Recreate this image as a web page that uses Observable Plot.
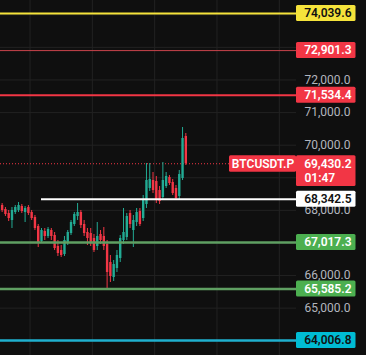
<!DOCTYPE html>
<html><head><meta charset="utf-8">
<script src="https://cdn.jsdelivr.net/npm/d3@7"></script>
<script src="https://cdn.jsdelivr.net/npm/@observablehq/plot@0.6"></script>
<style>html,body{margin:0;padding:0;background:#0f0f0f;overflow:hidden}</style>
</head><body><div id="chart"></div>
<script>
// ---- data ----
const opens  = [68149,68026,67904,67689,67934,67996,68118,67934,68088,67934,67781,67505,67045,67351,67198,67382,67229,66891,66768,66646,67014,67290,67566,67812,67934,67566,67321,67290,67137,66891,67259,67198,66953,66400,65940,66216,66523,67075,67167,67904,67382,67627,67965,67750,68180,68671,68916,68885,68609,68394,68732,69008,68855,68671,68425,68977,70266];
const highs  = [68210,68088,67996,68088,68149,68241,68180,68118,68149,67996,67842,67566,67443,67443,67474,67443,67321,67075,66922,67198,67382,67689,67934,68210,67996,67689,67443,67443,67259,67627,67382,67474,67075,66615,66462,66768,67229,68057,67904,67996,67842,68057,68057,68456,69438,69438,69161,69039,68732,69468,69161,69069,68947,68763,69223,70542,70358];
const lows   = [67934,67812,67658,67443,67873,67934,67904,67627,67842,67689,67382,66860,66983,67075,67137,67075,66768,66584,66554,66584,66922,67229,67505,67689,67443,67198,66922,66891,66707,66768,66953,66768,65590,65787,65817,66093,66400,66953,67075,67443,66860,67505,67505,67658,68057,68579,68517,68210,68180,68302,68671,68763,68456,68302,68333,68916,69376];
const closes = [67996,67873,67750,67996,68088,68149,67965,68057,67904,67750,67443,66983,67382,67198,67413,67198,66830,66676,66615,67075,67321,67627,67873,67934,67535,67290,67137,67014,66768,67198,67075,66891,66093,65971,66339,66615,67137,67321,67812,67566,67689,67934,67566,68302,68916,68947,68609,68302,68272,68916,69039,68824,68517,68364,69100,70205,69430.2];

const gridPrices = [64000,65000,66000,67000,68000,69000,70000,71000,72000,73000,74000];
const tickLabels = [65000,66000,68000,70000,71000,72000];  // price labels not covered by tags
const timeGrid   = [8.5, 27.5, 46.5, 65.5, 84.5];   // candle-index positions of the time grid

const levelValues = [74039.6, 72901.3, 71534.4, 68342.5, 67017.3, 65585.2, 64006.8];
const levelFrom   = [-0.5, -0.5, -0.5, 12, -0.5, -0.5, -0.5];
const levelKinds  = ["yellow", "redThin", "red", "white", "green", "green", "cyan"];

const lastPrice = 69430.2;
const countdown = "01:47";
const symbol    = "BTCUSDT.P";

// ---- styles ----
const style = {
  yellow:  {line: "#f5e33b", width: 2, box: "#f5e33b", text: "#111"},
  redThin: {line: "#c9444c", width: 1, box: "#f23645", text: "#fff"},
  red:     {line: "#f23645", width: 2, box: "#f23645", text: "#fff"},
  white:   {line: "#ffffff", width: 2, box: "#ffffff", text: "#111"},
  green:   {line: "#5f9f62", width: 2.5, box: "#4caf50", text: "#fff"},
  cyan:    {line: "#1fb0cf", width: 2.5, box: "#00bcd4", text: "#111"}
};
const UP = "#22ab94", DOWN = "#f23645";
const fmt = d3.format(",.1f");

const candles = opens.map((o, i) => ({i, o, h: highs[i], l: lows[i], c: closes[i]}));
const levels = levelValues.map((v, k) => ({value: v, from: levelFrom[k], kind: levelKinds[k]}));

const xDomain = [-0.5, 89.74];
const xEnd = xDomain[1];
const col = d => d.c >= d.o ? UP : DOWN;

const chart = Plot.plot({
  width: 366, height: 355,
  marginLeft: 0, marginTop: 0, marginBottom: 0, marginRight: 70,
  style: {background: "#0f0f0f", color: "#b2b5be", fontFamily: "Roboto, 'Liberation Sans', sans-serif", fontSize: "12px"},
  x: {domain: xDomain, axis: null},
  y: {domain: [63547, 74438.4], axis: null},
  marks: [
    Plot.ruleY(gridPrices, {stroke: "#222222", strokeWidth: 1}),
    Plot.ruleX(timeGrid, {stroke: "#222222", strokeWidth: 1}),
    Plot.axisY(tickLabels, {anchor: "right", tickSize: 0, tickPadding: 8, tickFormat: fmt, label: null, fill: "#b2b5be", fontSize: 12}),
    Plot.ruleY([lastPrice], {x1: xDomain[0], x2: xEnd, stroke: "#f23645", strokeWidth: 1, strokeDasharray: "1,2"}),
    Plot.ruleX(candles, {x: "i", y1: "l", y2: "h", stroke: col, strokeWidth: 1}),
    Plot.ruleX(candles, {x: "i", y1: "o", y2: "c", stroke: col, strokeWidth: 2.4}),
    Plot.ruleY(levels, {y: "value", x1: "from", x2: xEnd, stroke: d => style[d.kind].line, strokeWidth: d => style[d.kind].width}),
    Plot.rect(levels, {x1: xEnd, x2: xEnd, y1: "value", y2: "value", insetTop: -8, insetBottom: -8, insetRight: -59.5, fill: d => style[d.kind].box, rx: 1.5}),
    Plot.text(levels, {x: xEnd, y: "value", text: d => fmt(d.value), textAnchor: "end", dx: 55, fill: d => style[d.kind].text, fontSize: 12, fontWeight: 600}),
    Plot.rect([lastPrice], {x1: xEnd, x2: xEnd, y1: d => d, y2: d => d, insetTop: -8, insetBottom: -22.7, insetRight: -59.5, fill: "#f23645", rx: 1.5}),
    Plot.rect([lastPrice], {x1: xEnd, x2: xEnd, y1: d => d, y2: d => d, insetTop: -8, insetBottom: -8.5, insetLeft: -67, fill: "#f23645", rx: 1.5}),
    Plot.text([lastPrice], {x: xEnd, y: d => d, text: d => fmt(d), textAnchor: "end", dx: 55, fill: "#fff", fontSize: 12, fontWeight: 600}),
    Plot.text([countdown], {x: xEnd, y: () => lastPrice, text: d => d, textAnchor: "start", dx: 8, dy: 14, fill: "#fff", fontSize: 12, fontWeight: 600}),
    Plot.text([symbol], {x: xEnd, y: () => lastPrice, text: d => d, textAnchor: "middle", dx: -33.5, fill: "#fff", fontSize: 12, fontWeight: 600})
  ]
});
document.getElementById("chart").appendChild(chart);
</script>
</body></html>
